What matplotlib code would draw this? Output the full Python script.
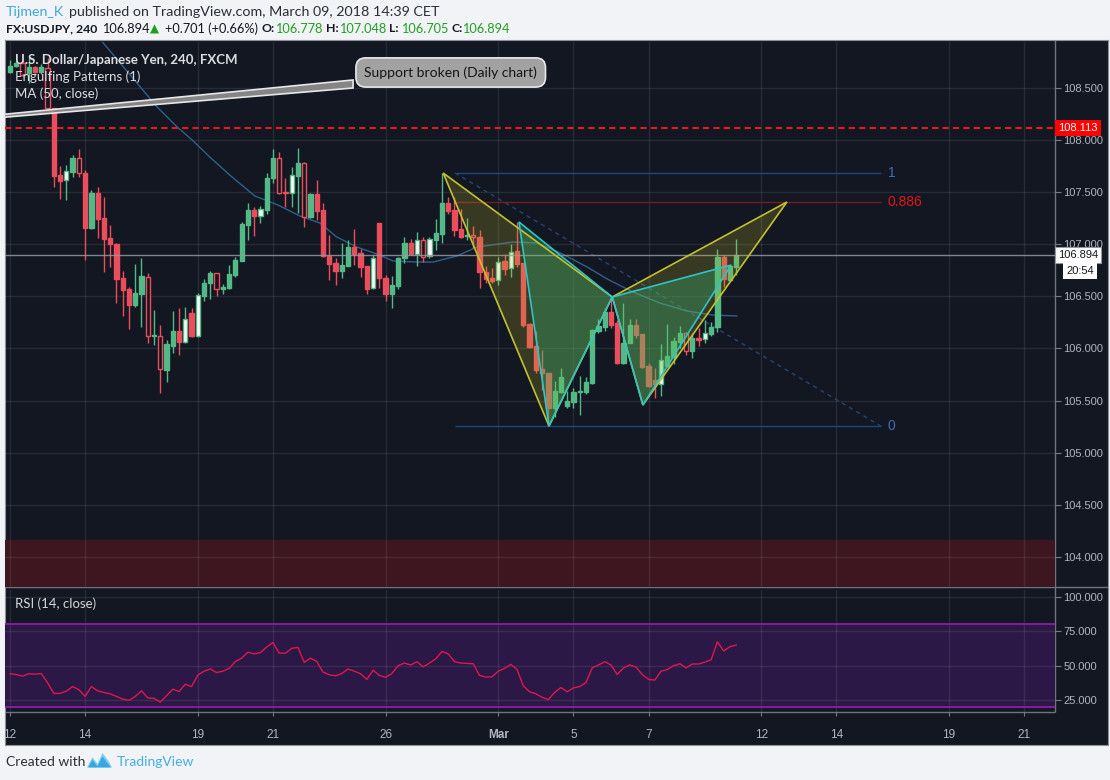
import numpy as np
import matplotlib.pyplot as plt
import matplotlib.transforms as mtransforms
from matplotlib.patches import Polygon

W, H = 1110, 780

# 4h candles from Feb 12 (bar 0) to Mar 9 (bar 116)
opens = [108.655, 108.710, 108.742, 108.640, 108.698, 108.650, 108.694, 108.304, 107.664, 107.613,
         107.696, 107.824, 107.680, 107.158, 107.489, 107.249, 107.057, 107.002, 106.673, 106.567,
         106.416, 106.522, 106.688, 106.122, 106.122, 105.793, 106.026, 106.167, 106.064, 106.337,
         106.122, 106.506, 106.625, 106.720, 106.567, 106.583, 106.704, 106.842, 107.184, 107.328,
         107.274, 107.328, 107.632, 107.824, 107.502, 107.489, 107.658, 107.776, 107.264, 107.482,
         107.328, 106.887, 106.816, 106.746, 106.794, 106.976, 106.912, 106.791, 106.577, 107.200,
         106.673, 106.522, 106.602, 106.865, 107.008, 106.906, 107.040, 106.890, 107.040, 107.098,
         107.392, 107.328, 107.146, 107.075, 107.085, 107.066, 106.736, 106.679, 106.656, 106.838,
         106.768, 106.935, 106.816, 106.234, 106.023, 105.799, 105.761, 105.425, 105.585, 105.447,
         105.489, 105.582, 105.585, 105.671, 106.170, 106.208, 106.352, 106.240, 105.863, 106.053,
         106.224, 106.138, 105.831, 105.692, 105.660, 105.831, 105.920, 106.064, 106.145, 105.978,
         106.097, 106.087, 106.138, 106.203, 106.874, 106.660, 106.778]
highs = [108.768, 108.758, 108.768, 108.787, 108.710, 108.730, 108.784, 108.310, 107.750, 107.760,
         107.856, 107.914, 107.712, 107.520, 107.552, 107.456, 107.184, 107.010, 106.743, 106.592,
         106.810, 106.865, 106.720, 106.369, 106.224, 106.080, 106.359, 106.385, 106.400, 106.385,
         106.530, 106.663, 106.745, 106.726, 106.618, 106.800, 106.880, 107.216, 107.398, 107.360,
         107.370, 107.680, 107.914, 107.882, 107.632, 107.738, 107.920, 107.786, 107.490, 107.616,
         107.398, 107.088, 106.865, 107.008, 107.040, 107.143, 106.951, 106.795, 106.900, 107.200,
         106.704, 106.695, 106.880, 107.072, 107.047, 107.120, 107.066, 107.070, 107.239, 107.686,
         107.456, 107.450, 107.340, 107.248, 107.175, 107.136, 106.790, 106.770, 106.873, 106.906,
         107.002, 107.216, 106.820, 106.240, 106.167, 105.984, 105.765, 105.687, 105.810, 105.594,
         105.617, 105.735, 105.730, 106.190, 106.279, 106.390, 106.493, 106.270, 106.438, 106.280,
         106.280, 106.140, 105.860, 105.810, 106.040, 106.234, 106.110, 106.218, 106.160, 106.150,
         106.193, 106.272, 106.250, 106.954, 106.896, 106.800, 107.048]
lows = [108.643, 108.700, 108.614, 108.544, 108.640, 108.630, 108.272, 107.552, 107.437, 107.424,
        107.648, 107.648, 106.848, 107.150, 107.062, 106.736, 106.784, 106.436, 106.311, 106.189,
        106.400, 106.208, 106.049, 106.033, 105.569, 105.680, 105.953, 105.937, 106.049, 106.113,
        106.110, 106.455, 106.471, 106.503, 106.522, 106.570, 106.685, 106.842, 107.040, 107.079,
        107.206, 107.290, 107.584, 107.482, 107.360, 107.354, 107.302, 107.168, 107.250, 107.232,
        106.880, 106.656, 106.608, 106.673, 106.790, 106.800, 106.688, 106.522, 106.570, 106.577,
        106.458, 106.391, 106.570, 106.823, 106.896, 106.791, 106.832, 106.870, 106.944, 107.015,
        107.290, 107.079, 107.060, 107.040, 106.960, 106.583, 106.625, 106.630, 106.608, 106.700,
        106.682, 106.784, 106.210, 106.000, 105.766, 105.601, 105.255, 105.345, 105.570, 105.425,
        105.425, 105.361, 105.560, 105.660, 106.145, 106.170, 106.193, 105.850, 105.850, 106.050,
        106.100, 105.810, 105.630, 105.520, 105.540, 105.825, 105.850, 106.000, 105.940, 105.910,
        106.026, 106.055, 106.120, 106.160, 106.592, 106.650, 106.705]
closes = [108.710, 108.742, 108.624, 108.703, 108.650, 108.698, 108.304, 107.657, 107.609, 107.702,
          107.830, 107.680, 107.158, 107.489, 107.242, 107.050, 107.000, 106.666, 106.560, 106.416,
          106.529, 106.695, 106.122, 106.126, 105.799, 106.039, 106.167, 106.064, 106.279, 106.122,
          106.513, 106.625, 106.726, 106.567, 106.592, 106.714, 106.848, 107.194, 107.328, 107.271,
          107.335, 107.632, 107.824, 107.494, 107.489, 107.661, 107.776, 107.264, 107.482, 107.322,
          106.887, 106.810, 106.746, 106.800, 106.976, 106.906, 106.784, 106.570, 106.865, 106.673,
          106.522, 106.608, 106.865, 107.008, 106.903, 107.040, 106.880, 107.047, 107.110, 107.398,
          107.322, 107.136, 107.072, 107.085, 107.066, 106.736, 106.666, 106.650, 106.832, 106.762,
          106.928, 106.810, 106.224, 106.016, 105.793, 105.761, 105.425, 105.591, 105.722, 105.498,
          105.579, 105.594, 105.681, 106.177, 106.215, 106.352, 106.224, 105.863, 106.053, 106.228,
          106.128, 105.825, 105.639, 105.660, 105.884, 105.927, 106.070, 106.145, 105.978, 106.097,
          106.080, 106.145, 106.208, 106.874, 106.666, 106.790, 106.894]

bull_engulf = [9, 28, 30, 40, 45, 58, 65, 67, 78, 80, 104, 111]
bear_engulf = [2, 6, 11, 22, 24, 33, 43, 47, 66, 74, 108]

rsi = [44.1, 43.5, 42.4, 44.1, 43.8, 44.3, 37.6, 29.8, 29.8, 31.5,
       34.8, 32.5, 27.6, 34.8, 31.7, 30.5, 29.5, 27.6, 25.7, 24.8,
       27.5, 31.7, 26.5, 26.2, 23.4, 28.1, 32.9, 31.2, 36.5, 34.8,
       43.1, 46.0, 47.6, 45.0, 46.0, 48.0, 53.0, 55.5, 59.8, 58.6,
       59.5, 63.5, 66.9, 59.1, 59.1, 62.6, 63.3, 52.4, 55.5, 53.1,
       45.3, 43.4, 42.6, 44.3, 47.6, 46.0, 44.1, 40.0, 46.7, 42.9,
       41.5, 44.3, 50.0, 51.9, 50.5, 52.9, 49.1, 51.9, 55.0, 60.3,
       58.6, 52.9, 51.9, 51.6, 51.4, 42.9, 41.7, 41.9, 46.0, 48.0,
       51.0, 47.2, 35.3, 31.0, 29.5, 27.0, 25.3, 30.5, 34.1, 31.0,
       33.8, 34.8, 37.6, 48.4, 50.5, 52.9, 50.5, 43.6, 48.4, 50.5,
       49.0, 43.5, 40.0, 39.5, 46.0, 47.2, 50.0, 51.4, 48.4, 51.2,
       51.2, 52.6, 54.3, 67.4, 60.7, 63.8, 65.0]

# MA(50) at a few bars
ma_idx = [13.0, 14.9, 23.5, 26.7, 29.1, 31.9, 35.1, 39.1, 42.8, 46.3, 49.5, 52.2, 55.4, 58.6,
          61.2, 65.0, 67.6, 71.4, 74.6, 80.4, 84.2, 87.9, 92.2, 95.4, 99.5, 103.8, 108.1, 112.3, 116.1]
ma_val = [109.05, 108.931, 108.317, 108.125, 108.000, 107.837, 107.664, 107.463, 107.376, 107.271,
          107.203, 107.069, 106.973, 106.906, 106.839, 106.829, 106.829, 106.887, 106.973, 107.021,
          107.012, 106.916, 106.781, 106.666, 106.541, 106.436, 106.359, 106.320, 106.311]

day_ticks = [0, 12, 30, 42, 60, 78, 90, 102, 120, 132, 150, 162]
day_labels = ['12', '14', '19', '21', '26', 'Mar', '5', '7', '12', '14', '19', '21']
price_ticks = [104.0, 104.5, 105.0, 105.5, 106.0, 106.5, 107.0, 107.5, 108.0, 108.5]
rsi_ticks = [25, 50, 75, 100]

# harmonic patterns X, A, B, C, D  (bar, price)
bat1_x = [69.2, 86.1, 96.2, 101.1, 124.1]
bat1_y = [107.683, 105.255, 106.493, 105.457, 107.405]
bat2_x = [81.3, 86.1, 96.2, 101.1, 115.2]
bat2_y = [107.213, 105.255, 106.493, 105.457, 106.800]

fib_start, fib_end = 71.1, 139.1
fib_high, fib_low = 107.683, 105.255
fib_levels = [1, 0.886, 0]

support_level = 108.113
last_price = 106.894
zone_top = 104.161
callout_tail_x = [-33.4, 54.8, 54.8]
callout_tail_y = [108.055, 108.576, 108.499]

BG = '#131722'
GREEN = '#53b987'
RED = '#eb4d5c'
AXTXT = '#b2b5be'
UIFONT = 'Lato'
AXFONT = 'Liberation Sans'


def px_box(x0, y0, x1, y1):
    return [x0 / W, 1 - y1 / H, (x1 - x0) / W, (y1 - y0) / H]


def ftext(x, y, s, **kw):
    fig.text(x / W, 1 - y / H, s, va='center', ha='left', **kw)


fig = plt.figure(figsize=(W / 100, H / 100), dpi=100, facecolor='#f1f3f6')

# container
bg = fig.add_axes(px_box(5, 40, 1108, 745))
bg.set_xlim(5, 1108)
bg.set_ylim(745, 40)
bg.set_facecolor(BG)
bg.set_xticks([])
bg.set_yticks([])
for s in bg.spines.values():
    s.set_color('#8e9199')
bg.hlines(587, 5, 1108, color='#70737d', lw=1)
bg.hlines(712, 5, 1055, color='#70737d', lw=1)
bg.vlines(1055, 40, 712, color='#70737d', lw=1)

# ---- price pane ----
ax = fig.add_axes(px_box(5, 42, 1055, 587))
ax.set_facecolor('none')
ax.set_xlim(-0.8, 166.93)
ax.set_ylim(103.7102, 108.9405)
for s in ax.spines.values():
    s.set_visible(False)
ax.set_axisbelow(True)
ax.grid(True, color='white', alpha=0.085, lw=1)
ax.set_xticks(day_ticks)
ax.set_yticks(price_ticks)
ax.set_yticklabels(['%.3f' % p for p in price_ticks], fontfamily=AXFONT)
ax.tick_params(axis='x', length=0, labelbottom=False)
ax.tick_params(axis='y', left=False, labelleft=False, right=True, labelright=True,
               length=4, color='#787b86', labelsize=8, labelcolor=AXTXT, pad=2)

ax.axhspan(103.0, zone_top, color='#3d1620', zorder=0.3)
ax.axhline(support_level, color='#e8191e', lw=1.5, ls=(0, (3, 2)), zorder=2)

# fib retracement
rng = fib_high - fib_low
fib_line_col = {1: '#1f4683', 0.886: '#7c1a1f', 0: '#1f4683'}
fib_txt_col = {1: '#3d6db5', 0.886: '#e5121b', 0: '#3d6db5'}
for lv in fib_levels:
    y = fib_low + lv * rng
    ax.hlines(y, fib_start, fib_end, color=fib_line_col[lv], lw=1, zorder=2)
    ax.text(fib_end + 1.1, y, str(lv), color=fib_txt_col[lv], fontsize=10,
            fontfamily=AXFONT, va='center', ha='left')
ax.plot([fib_start, fib_end], [fib_high, fib_low], color='#25457a', lw=1,
        ls=(0, (3, 3)), zorder=2)

ax.plot(ma_idx, ma_val, color='#2e6089', lw=1, zorder=3)

# candles
idx = np.arange(len(opens))
o = np.array(opens)
c = np.array(closes)
up = c >= o
col = np.where(up, GREEN, RED)
ax.vlines(idx, lows, highs, colors=col, lw=1, zorder=3.5)
face = list(col)
edge = list(col)
for i in bull_engulf:
    face[i] = 'white'
    edge[i] = GREEN
for i in bear_engulf:
    face[i] = BG
    edge[i] = RED
ax.bar(idx, np.maximum(np.abs(c - o), 0.006), 0.68, bottom=np.minimum(o, c),
       color=face, edgecolor=edge, linewidth=1, zorder=4)

ax.axhline(last_price, color='#9598a1', lw=1, alpha=0.85, zorder=5)


def draw_pattern(xs, ys, fc, ec, alpha):
    pts = list(zip(xs, ys))
    for tri in (pts[0:3], pts[2:5]):
        ax.add_patch(Polygon(tri, closed=True, facecolor=fc, edgecolor='none',
                             alpha=alpha, zorder=6))
        ax.add_patch(Polygon(tri, closed=True, fill=False, edgecolor=ec, lw=1.2, zorder=7))


draw_pattern(bat1_x, bat1_y, '#bdb62a', '#c2c22c', 0.22)
draw_pattern(bat2_x, bat2_y, '#33c27a', '#2ec4c8', 0.3)

# callout
ax.add_patch(Polygon(list(zip(callout_tail_x, callout_tail_y)), closed=True,
                     facecolor='#858585', edgecolor='#e6e6e6', lw=1.2, zorder=8))
ax.text(70.4, 108.648, 'Support broken (Daily chart)', fontsize=10, fontfamily=UIFONT,
        color='#151515', ha='center', va='center', zorder=9,
        bbox=dict(boxstyle='round,pad=0.6,rounding_size=0.7', fc='#a2a2a2',
                  ec='#e8e8e8', lw=1.2))

for k, s in enumerate(['U.S. Dollar/Japanese Yen, 240, FXCM', 'Engulfing Patterns (1)',
                       'MA (50, close)']):
    ax.text(10 / 1050, 1 - (60 + 17 * k - 42) / 545, s, transform=ax.transAxes,
            fontsize=9.5, fontfamily=UIFONT, color='#dcdde1', va='center', ha='left',
            zorder=10, fontweight='bold' if k == 0 else 'normal')

blend = mtransforms.blended_transform_factory(ax.transAxes, ax.transData)
ax.text(1053 / 1050, support_level, '%.3f' % support_level, transform=blend,
        fontsize=8, fontfamily=AXFONT, color='white', va='center', ha='left', zorder=12,
        bbox=dict(boxstyle='square,pad=0.28', fc='#ff0000', ec='none'))
ax.text(1053 / 1050, last_price, '%.3f' % last_price, transform=blend,
        fontsize=8, fontfamily=AXFONT, color='#131722', va='center', ha='left', zorder=12,
        bbox=dict(boxstyle='square,pad=0.28', fc='white', ec='#9598a1', lw=0.8))
ax.annotate('20:54', xy=(1061 / 1050, last_price), xycoords=blend,
            xytext=(0, -16), textcoords='offset pixels', fontsize=8, fontfamily=AXFONT,
            color='#131722', va='center', ha='left', zorder=12, annotation_clip=False,
            bbox=dict(boxstyle='square,pad=0.28', fc='white', ec='none'))

# ---- RSI pane ----
rx = fig.add_axes(px_box(5, 590, 1055, 712))
rx.set_facecolor('none')
rx.set_xlim(-0.8, 166.93)
rx.set_ylim(16.26, 105.1)
for s in rx.spines.values():
    s.set_visible(False)
rx.set_axisbelow(True)
rx.grid(True, color='white', alpha=0.085, lw=1)
rx.axhspan(20, 80, color='#2b1846', zorder=0.3)
rx.axhline(80, color='#8a1fa3', lw=1.3, zorder=1)
rx.axhline(20, color='#8a1fa3', lw=1.3, zorder=1)
rx.plot(idx, rsi, color='#e0164c', lw=1, zorder=3)
rx.set_yticks(rsi_ticks)
rx.set_yticklabels(['%.3f' % v for v in rsi_ticks], fontfamily=AXFONT)
rx.tick_params(axis='y', left=False, labelleft=False, right=True, labelright=True,
               length=4, color='#787b86', labelsize=8, labelcolor=AXTXT, pad=2)
rx.set_xticks(day_ticks)
rx.set_xticklabels(day_labels, fontfamily=AXFONT)
rx.tick_params(axis='x', length=3, color='#787b86', labelsize=8.5, labelcolor=AXTXT, pad=9)
for lab in rx.get_xticklabels():
    if lab.get_text() == 'Mar':
        lab.set_fontweight('bold')
rx.text(10 / 1050, 1 - (604 - 590) / 122, 'RSI (14, close)', transform=rx.transAxes,
        fontsize=9.5, fontfamily=UIFONT, color='#d5d6da', va='center', ha='left')

# ---- header ----
ftext(6, 12, 'Tijmen_K', fontsize=10.2, fontfamily=UIFONT, color='#3ea8e0')
ftext(69, 12, 'published on TradingView.com, March 09, 2018 14:39 CET', fontsize=10.3,
      fontfamily=UIFONT, color='#2a2e39')
ftext(6, 29, 'FX:USDJPY, 240', fontsize=8.8, fontfamily=UIFONT, color='#131722',
      fontweight='bold')
ftext(102, 29, '106.894', fontsize=9.2, fontfamily=UIFONT, color='#131722')
ftext(150, 29, '\u25b2', fontsize=8.5, fontfamily='DejaVu Sans', color='#17a317')
ftext(165, 29, '+0.701 (+0.66%)', fontsize=9.2, fontfamily=UIFONT, color='#131722')
for lx, lab, vx, val in [(262, 'O:', 275, '106.778'), (326, 'H:', 339, '107.048'),
                         (389, 'L:', 401, '106.705'), (451, 'C:', 462, '106.894')]:
    ftext(lx, 29, lab, fontsize=8.8, fontfamily=UIFONT, color='#131722', fontweight='bold')
    ftext(vx, 29, val, fontsize=9.2, fontfamily=UIFONT, color='#21a121')

# ---- footer ----
ftext(6, 762, 'Created with', fontsize=10, fontfamily=UIFONT, color='#2a2e39')
ftext(117, 762, 'TradingView', fontsize=10, fontfamily=UIFONT, color='#41b0e6')
logo = fig.add_axes(px_box(87, 753, 112, 770))
logo.set_axis_off()
logo.set_xlim(0, 1)
logo.set_ylim(0, 1)
logo.add_patch(Polygon([(0, 0.15), (0.22, 0.75), (0.42, 0.35), (0.62, 1.0), (0.85, 0.55),
                        (1.0, 0.15)], closed=True, fc='#7fcdf0', ec='none'))
logo.add_patch(Polygon([(0.05, 0.15), (0.22, 0.6), (0.42, 0.2), (0.62, 0.8), (0.95, 0.15)],
                       closed=True, fc='#35a8e0', ec='none'))

fig.savefig('out.png', dpi=100, facecolor=fig.get_facecolor())
